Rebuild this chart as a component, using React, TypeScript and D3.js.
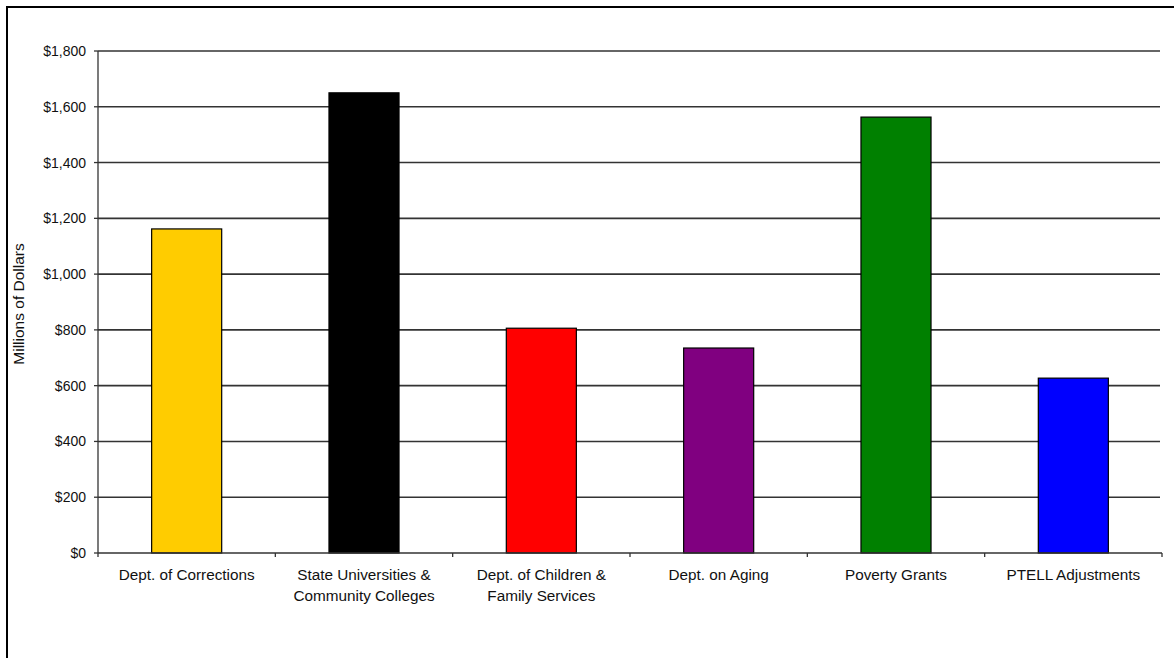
import React from "react";
import * as d3 from "d3";

const categories: string[][] = [
  ["Dept. of Corrections"],
  ["State Universities &", "Community Colleges"],
  ["Dept. of Children &", "Family Services"],
  ["Dept. on Aging"],
  ["Poverty Grants"],
  ["PTELL Adjustments"],
];
const values: number[] = [1162, 1650, 806, 735, 1563, 627];
const colors: string[] = ["#FFCC00", "#000000", "#FF0000", "#800080", "#008000", "#0000FF"];
const yTicks: number[] = [0, 200, 400, 600, 800, 1000, 1200, 1400, 1600, 1800];

export default function App() {
  const W = 1174, H = 658;
  const left = 98, right = 1162, top = 51, bottom = 553;
  const x = d3.scaleBand<number>().domain(d3.range(categories.length)).range([left, right]).paddingInner(0).paddingOuter(0);
  const y = d3.scaleLinear().domain([0, 1800]).range([bottom, top]);
  const bw = x.bandwidth() * 0.395;
  const fmt = (v: number) => "$" + d3.format(",")(v);
  const font = "'Liberation Sans', Arial, sans-serif";
  return (
    <svg width={W} height={H} style={{ position: "absolute", left: 0, top: 0, background: "#fff" }}>
      <rect x={7} y={7} width={W + 20} height={H + 20} fill="none" stroke="#000" strokeWidth={2} />
      {yTicks.map((t) => (
        <g key={t}>
          {t > 0 && <line x1={left} x2={1160} y1={y(t)} y2={y(t)} stroke="#333" strokeWidth={1.6} />}
          <line x1={left - 4} x2={left} y1={y(t)} y2={y(t)} stroke="#333" strokeWidth={1.3} />
          <text x={left - 12} y={y(t) + 5} textAnchor="end" fontFamily={font} fontSize={14} fill="#111">
            {fmt(t)}
          </text>
        </g>
      ))}
      {values.map((v, i) => (
        <rect key={i} x={x(i)! + (x.bandwidth() - bw) / 2} y={y(v)} width={bw} height={bottom - y(v)}
          fill={colors[i]} stroke="#000" strokeWidth={1.2} />
      ))}
      <line x1={left} x2={left} y1={top} y2={bottom} stroke="#333" strokeWidth={1.3} />
      <line x1={left} x2={right} y1={bottom} y2={bottom} stroke="#333" strokeWidth={1.3} />
      {d3.range(categories.length + 1).map((i) => {
        const xx = left + i * x.bandwidth();
        return <line key={i} x1={xx} x2={xx} y1={bottom} y2={bottom + 4} stroke="#333" strokeWidth={1.3} />;
      })}
      {categories.map((lines, i) => (
        <text key={i} x={x(i)! + x.bandwidth() / 2} y={580} textAnchor="middle" fontFamily={font} fontSize={15.3} fill="#111">
          {lines.map((l, j) => (
            <tspan key={j} x={x(i)! + x.bandwidth() / 2} dy={j === 0 ? 0 : 21}>{l}</tspan>
          ))}
        </text>
      ))}
      <text transform={`translate(24,304) rotate(-90)`} textAnchor="middle" fontFamily={font} fontSize={15.5} fill="#111">
        Millions of Dollars
      </text>
    </svg>
  );
}
